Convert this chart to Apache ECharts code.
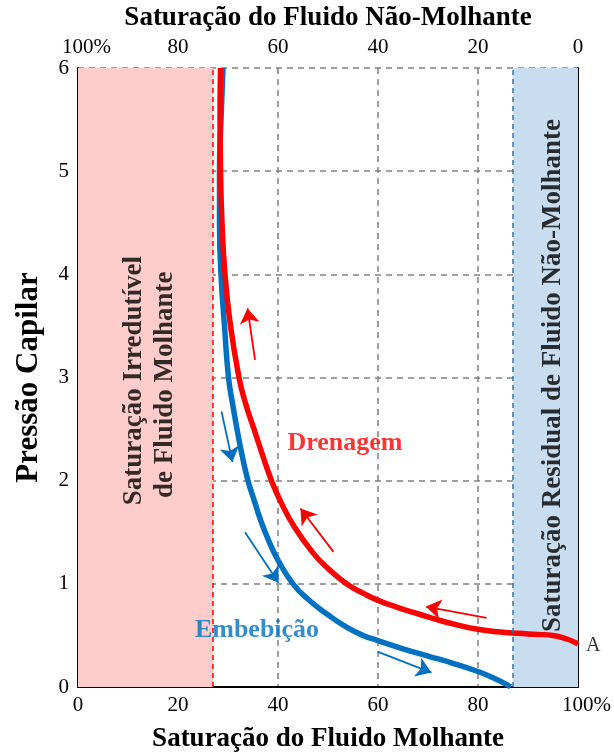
<!DOCTYPE html>
<html><head><meta charset="utf-8">
<script src="https://cdn.jsdelivr.net/npm/echarts@6/dist/echarts.min.js"></script>
<style>html,body{margin:0;padding:0;background:#fff}#c{width:614px;height:753px}</style>
</head><body><div id="c"></div>
<script>
const FONT = '"Liberation Serif","Times New Roman",serif';
// Drainage curve (Drenagem): [Sw %, Pc]
const drenagem = [[28.5,6],[28.4,5.5],[28.5,5],[28.8,4.5],[29.4,4],[30.5,3.5],[32.2,3],[33.5,2.75],[35.2,2.5],[36.9,2.25],[38.7,2],[40.5,1.8],[43.3,1.55],[47,1.3],[50.2,1.14],[53.7,1.0],[57,0.91],[60,0.84],[64,0.77],[68,0.71],[72,0.65],[76,0.6],[80,0.56],[84,0.535],[88,0.52],[92,0.51],[95,0.5],[97.5,0.47],[100,0.42]];
// Imbibition curve (Embebição)
const embebicao = [[29,6],[28.6,5.5],[28.3,5],[28.3,4.5],[28.6,4],[29.3,3.5],[30.1,3],[30.9,2.75],[31.8,2.5],[32.8,2.25],[34,2],[35.3,1.8],[36.5,1.62],[38.3,1.4],[40,1.23],[43,1.0],[46,0.85],[50,0.7],[53.7,0.58],[57,0.5],[60,0.45],[65,0.37],[70,0.3],[75,0.23],[80,0.15],[83,0.09],[85.5,0.03],[86.5,0]];
// Direction arrows [tail, head]
const redArrows = [[[35.4,3.17],[33.9,3.67]],[[51.1,1.31],[44.5,1.73]],[[81.7,0.67],[69.6,0.78]]];
const blueArrows = [[[28.7,2.67],[30.9,2.18]],[[33.4,1.5],[40.1,1.01]],[[60,0.34],[70.7,0.14]]];
// Regions
const swIrredutivel = 27;
const snwResidual = 87;

const chart = echarts.init(document.getElementById('c'));
const TICK = 21;
const lbl = {fontFamily: FONT, fontSize: TICK, color: '#000'};
const pctFmt = v => v===100 ? '{s|}{n|100%}' : String(v);
const pctRich = {s:{width:17}, n:{fontFamily:FONT, fontSize:TICK, color:'#000'}};
chart.setOption({
  animation: false,
  grid: {left: 78, right: 36, top: 68, bottom: 66, containLabel:false, outerBoundsMode:'none'},
  xAxis: [
    {type:'value', min:0, max:100, interval:20, position:'bottom',
     name:'Saturação do Fluido Molhante', nameLocation:'middle', nameGap:39,
     nameTextStyle:{fontFamily:FONT, fontSize:27, fontWeight:'bold', color:'#000'},
     axisLine:{show:true, lineStyle:{color:'#000', width:2}}, axisTick:{show:false},
     axisLabel:{...lbl, margin:8, formatter: pctFmt, rich: pctRich},
     splitLine:{show:true, lineStyle:{color:'#808080', type:[6,5], width:1.5}}},
    {type:'value', min:0, max:100, interval:20, position:'top', inverse:true,
     name:'Saturação do Fluido Não-Molhante', nameLocation:'middle', nameGap:36,
     nameTextStyle:{fontFamily:FONT, fontSize:27, fontWeight:'bold', color:'#000'},
     axisLine:{show:true, lineStyle:{color:'#000', width:2}}, axisTick:{show:false},
     axisLabel:{...lbl, margin:10, formatter: pctFmt, rich: pctRich},
     splitLine:{show:false}}
  ],
  yAxis: [
    {type:'value', min:0, max:6, interval:1, position:'left',
     name:'Pressão Capilar', nameLocation:'middle', nameGap:34,
     nameTextStyle:{fontFamily:FONT, fontSize:31, fontWeight:'bold', color:'#000'},
     axisLine:{show:true, lineStyle:{color:'#000', width:2}}, axisTick:{show:false},
     axisLabel:{...lbl, margin:9},
     splitLine:{show:true, lineStyle:{color:'#808080', type:[6,5], width:1.5}}},
    {type:'value', min:0, max:6, interval:1, position:'right',
     axisLine:{show:true, lineStyle:{color:'#000', width:2}}, axisTick:{show:false},
     axisLabel:{show:false}, splitLine:{show:false}}
  ],
  series: [
    {type:'line', data:[], xAxisIndex:0, yAxisIndex:0, z:-1,
     markArea:{silent:true, data:[
       [{xAxis:0, itemStyle:{color:'#FFCCCC'}},{xAxis:swIrredutivel}],
       [{xAxis:snwResidual, itemStyle:{color:'#C9DDF0'}},{xAxis:100}]
     ]}},
    {type:'line', data:[], z:2,
     markLine:{silent:true, symbol:'none', label:{show:false}, data:[
       {xAxis:swIrredutivel, lineStyle:{color:'#FF0000', type:[5,4], width:1.5}},
       {xAxis:snwResidual, lineStyle:{color:'#2E75B6', type:[5,4], width:1.5}}
     ]}},
    {type:'line', name:'Embebição', data:embebicao, smooth:0.5, showSymbol:false, z:3,
     lineStyle:{color:'#0070C0', width:5.5}},
    {type:'line', name:'Drenagem', data:drenagem, smooth:0.5, showSymbol:false, z:4,
     lineStyle:{color:'#FF0000', width:5.5}},
    {type:'lines', coordinateSystem:'cartesian2d', z:5,
     symbol:['none','arrow'], symbolSize:[0,15],
     lineStyle:{color:'#FF0000', width:1.8, opacity:1},
     data: redArrows.map(c => ({coords:c}))},
    {type:'lines', coordinateSystem:'cartesian2d', z:5,
     symbol:['none','arrow'], symbolSize:[0,15],
     lineStyle:{color:'#0070C0', width:1.8, opacity:1},
     data: blueArrows.map(c => ({coords:c}))},
    {type:'scatter', symbolSize:0, z:6, clip:false, silent:true,
     data:[
       {value:[53.4,2.36], label:{show:true, formatter:'Drenagem', color:'#FF0000', fontSize:26, fontWeight:'bold', fontFamily:FONT}},
       {value:[35.8,0.55], label:{show:true, formatter:'Embebição', color:'#0070C0', fontSize:26, fontWeight:'bold', fontFamily:FONT}},
       {value:[100,0.42], label:{show:true, position:'right', distance:8, offset:[0,2], formatter:'A', color:'#000', fontSize:20, fontFamily:FONT}},
       {value:[11.2,2.97], label:{show:true, rotate:90, formatter:'Saturação Irredutível', color:'#000', fontSize:27, fontWeight:'bold', fontFamily:FONT}},
       {value:[17.4,2.93], label:{show:true, rotate:90, formatter:'de Fluido Molhante', color:'#000', fontSize:27, fontWeight:'bold', fontFamily:FONT}},
       {value:[95,3.02], label:{show:true, rotate:90, formatter:'Saturação Residual de Fluido Não-Molhante', color:'#000', fontSize:27, fontWeight:'bold', fontFamily:FONT}}
     ],
     label:{position:'inside'}}
  ]
});
</script></body></html>
